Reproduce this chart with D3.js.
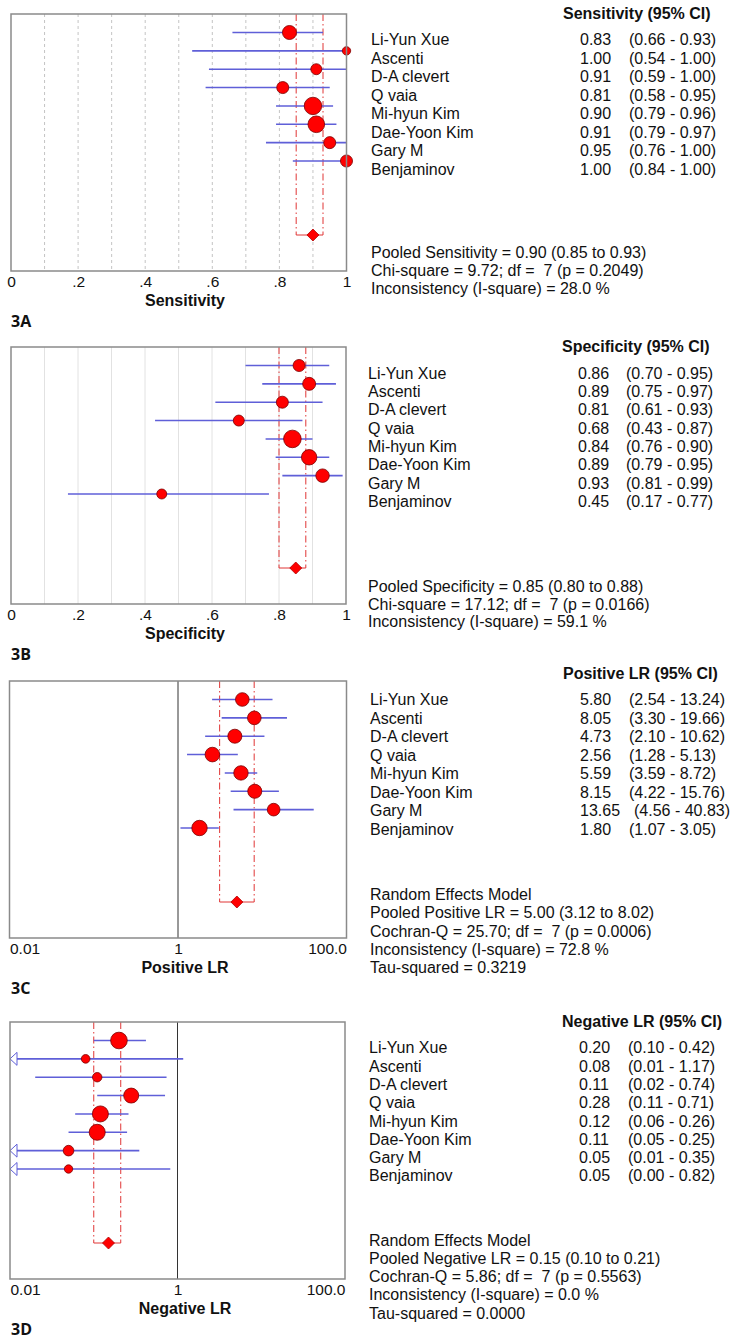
<!DOCTYPE html>
<html><head><meta charset="utf-8">
<script src="https://cdn.jsdelivr.net/npm/d3@7"></script>
<style>
html,body{margin:0;padding:0;background:#fff;}
svg{display:block;}
text{font-family:"Liberation Sans",Arial,sans-serif;fill:#111;}
</style></head>
<body>
<svg id="chart" width="741" height="1343"></svg>
<script>
// ---------------- DATA ----------------
const studies = ["Li-Yun Xue","Ascenti","D-A clevert","Q vaia","Mi-hyun Kim","Dae-Yoon Kim","Gary M","Benjaminov"];

const sensEst = [0.83,1.00,0.91,0.81,0.90,0.91,0.95,1.00];
const sensLo  = [0.66,0.54,0.59,0.58,0.79,0.79,0.76,0.84];
const sensHi  = [0.93,1.00,1.00,0.95,0.96,0.97,1.00,1.00];
const sensWeight = [14.0,5.0,8.6,10.3,21.7,19.7,10.3,10.3];
const sensPooled = [0.90,0.85,0.93];
const sensStats = ["Pooled Sensitivity = 0.90 (0.85 to 0.93)","Chi-square = 9.72; df =  7 (p = 0.2049)","Inconsistency (I-square) = 28.0 %"];

const specEst = [0.86,0.89,0.81,0.68,0.84,0.89,0.93,0.45];
const specLo  = [0.70,0.75,0.61,0.43,0.76,0.79,0.81,0.17];
const specHi  = [0.95,0.97,0.93,0.87,0.90,0.95,0.99,0.77];
const specWeight = [10.3,12.0,10.3,8.6,22.0,16.9,12.9,7.1];
const specPooled = [0.85,0.80,0.88];
const specStats = ["Pooled Specificity = 0.85 (0.80 to 0.88)","Chi-square = 17.12; df =  7 (p = 0.0166)","Inconsistency (I-square) = 59.1 %"];

const plrEst = [5.80,8.05,4.73,2.56,5.59,8.15,13.65,1.80];
const plrLo  = [2.54,3.30,2.10,1.28,3.59,4.22,4.56,1.07];
const plrHi  = [13.24,19.66,10.62,5.13,8.72,15.76,40.83,3.05];
const plrWeight = [13.2,13.2,14.0,15.2,14.8,14.0,11.4,16.9];
const plrPooled = [5.00,3.12,8.02];
const plrStats = ["Random Effects Model","Pooled Positive LR = 5.00 (3.12 to 8.02)","Cochran-Q = 25.70; df =  7 (p = 0.0006)","Inconsistency (I-square) = 72.8 %","Tau-squared = 0.3219"];

const nlrEst = [0.20,0.08,0.11,0.28,0.12,0.11,0.05,0.05];
const nlrLo  = [0.10,0.01,0.02,0.11,0.06,0.05,0.01,0.00];
const nlrHi  = [0.42,1.17,0.74,0.71,0.26,0.25,0.35,0.82];
const nlrWeight = [19.7,5.3,6.3,16.0,18.3,18.3,8.0,5.0];
const nlrPooled = [0.15,0.10,0.21];
const nlrStats = ["Random Effects Model","Pooled Negative LR = 0.15 (0.10 to 0.21)","Cochran-Q = 5.86; df =  7 (p = 0.5563)","Inconsistency (I-square) = 0.0 %","Tau-squared = 0.0000"];

const linTicks = [0,0.2,0.4,0.6,0.8,1];
const linTickLabels = ["0",".2",".4",".6",".8","1"];
const logTicks = [0.01,1,100];
const logTickLabels = ["0.01","1","100.0"];
const linGrid = [0.1,0.2,0.3,0.4,0.5,0.6,0.7,0.8,0.9];

// ---------------- LAYOUT ----------------
const svg = d3.select("#chart");
const rScale = d3.scaleSqrt().domain([0,22]).range([0,8.8]);

const panels = [
  {est:sensEst,lo:sensLo,hi:sensHi,w:sensWeight,pooled:sensPooled,stats:sensStats,
   header:"Sensitivity (95% CI)",title:"Sensitivity",tag:"3A",type:"lin",grid:"dot",
   top:14,x0:11,x1:346.5,hdrY:18.5,rowY:45,rowStep:18.5,statY:257.7,statStep:18,
   nameX:371,valX:580,ciX:629,hdrX:563},
  {est:specEst,lo:specLo,hi:specHi,w:specWeight,pooled:specPooled,stats:specStats,
   header:"Specificity (95% CI)",title:"Specificity",tag:"3B",type:"lin",grid:"solid",
   top:347,x0:11,x1:346,hdrY:351.7,rowY:378.7,rowStep:18.3,statY:591.7,statStep:17.8,
   nameX:368,valX:578,ciX:626,hdrX:562},
  {est:plrEst,lo:plrLo,hi:plrHi,w:plrWeight,pooled:plrPooled,stats:plrStats,
   header:"Positive LR (95% CI)",title:"Positive LR",tag:"3C",type:"log",
   top:681,x0:9.5,x1:346.5,hdrY:679.3,rowY:705,rowStep:18.5,statY:900,statStep:18.3,
   nameX:370,valX:580,ciX:629,hdrX:563},
  {est:nlrEst,lo:nlrLo,hi:nlrHi,w:nlrWeight,pooled:nlrPooled,stats:nlrStats,
   header:"Negative LR (95% CI)",title:"Negative LR",tag:"3D",type:"log",
   top:1022,x0:10,x1:345,hdrY:1026.7,rowY:1053.3,rowStep:18.3,statY:1245.7,statStep:18.2,
   nameX:369,valX:579,ciX:628,hdrX:562}
];

const H = 257;
const ciColor = "#5f5fd8";
const pooledColor = "#e03535";

panels.forEach(p => {
  const g = svg.append("g");
  const x = p.type === "lin"
    ? d3.scaleLinear().domain([0,1]).range([p.x0,p.x1])
    : d3.scaleLog().domain([0.01,100]).range([p.x0,p.x1]);
  const y = d3.scalePoint().domain(studies).range([p.top+18.5, p.top+147]);
  const yPool = p.top + 221;
  const bottom = p.top + H;

  // grid
  if (p.type === "lin") {
    g.selectAll(".grid").data(linGrid).join("line")
      .attr("x1",d=>x(d)).attr("x2",d=>x(d))
      .attr("y1",p.top).attr("y2",bottom)
      .attr("stroke", p.grid==="dot" ? "#c4c4c4" : "#e2e2e2")
      .attr("stroke-width",1)
      .attr("stroke-dasharray", p.grid==="dot" ? "3,3" : null);
  }

  // pooled CI dashed lines
  [p.pooled[1], p.pooled[2]].forEach(v => {
    g.append("line")
      .attr("x1",x(v)).attr("x2",x(v))
      .attr("y1",p.top).attr("y2",yPool)
      .attr("stroke",pooledColor).attr("stroke-width",1)
      .attr("stroke-dasharray","7,3,1.5,3");
  });
  g.append("line")
    .attr("x1",x(p.pooled[1])).attr("x2",x(p.pooled[2]))
    .attr("y1",yPool).attr("y2",yPool)
    .attr("stroke",pooledColor).attr("stroke-width",1);

  // center line for log panels
  if (p.type === "log") {
    g.append("line").attr("x1",x(1)).attr("x2",x(1))
      .attr("y1",p.top).attr("y2",bottom)
      .attr("stroke","#333").attr("stroke-width",1);
  }

  const rows = studies.map((s,i)=>({s, est:p.est[i], lo:p.lo[i], hi:p.hi[i], w:p.w[i]}));
  const clamp = v => p.type==="log" ? Math.max(v, 0.01) : v;

  // CI lines
  g.selectAll(".ci").data(rows).join("line")
    .attr("x1",d=>x(clamp(d.lo))).attr("x2",d=>x(clamp(d.hi)))
    .attr("y1",d=>y(d.s)).attr("y2",d=>y(d.s))
    .attr("stroke",ciColor).attr("stroke-width",1.6);

  // arrows for truncated lower bounds
  if (p.type === "log") {
    g.selectAll(".arr").data(rows.filter(d=>d.lo<=0.01)).join("path")
      .attr("d",d=>{
        const xx = x(0.01), yy = y(d.s);
        return `M${xx},${yy} L${xx+7},${yy-6.5} L${xx+7},${yy+6.5} Z`;
      })
      .attr("fill","#fff").attr("stroke",ciColor).attr("stroke-width",1);
  }

  // study points
  g.selectAll(".pt").data(rows).join("circle")
    .attr("cx",d=>x(d.est)).attr("cy",d=>y(d.s))
    .attr("r",d=>rScale(d.w))
    .attr("fill","#ff0000").attr("stroke","#7a0000").attr("stroke-width",0.8);

  // pooled diamond
  const px = x(p.pooled[0]);
  g.append("path")
    .attr("d",`M${px-6},${yPool} L${px},${yPool-6} L${px+6},${yPool} L${px},${yPool+6} Z`)
    .attr("fill","#ff0000").attr("stroke","#b00000").attr("stroke-width",0.8);

  // frame
  g.append("rect").attr("x",p.x0).attr("y",p.top)
    .attr("width",p.x1-p.x0).attr("height",H)
    .attr("fill","none").attr("stroke","#8a8a8a").attr("stroke-width",1.5);

  // axis
  const ticks = p.type==="lin" ? linTicks : logTicks;
  const labels = p.type==="lin" ? linTickLabels : logTickLabels;
  const axis = d3.axisBottom(x).tickValues(ticks).tickSize(0)
    .tickFormat((d,i)=>labels[i]);
  const ag = g.append("g").attr("transform",`translate(0,${p.top+273.5-11.5})`).call(axis);
  ag.select(".domain").remove();
  ag.selectAll("text")
    .attr("y",0).attr("dy","0.72em")
    .style("font-family","'Liberation Sans',Arial,sans-serif")
    .style("font-size","15.5px").attr("fill","#111");
  if (p.type==="log") {
    ag.selectAll("text").attr("text-anchor",(d,i)=> i===0 ? "start" : (i===ticks.length-1 ? "end" : "middle"));
  }

  g.append("text").attr("x",185).attr("y",p.top+291.5)
    .attr("text-anchor","middle").attr("font-weight","bold").attr("font-size","16px")
    .text(p.title);
  g.append("text").attr("x",11).attr("y",p.top+312.5)
    .style("font-family","'Open Sans',sans-serif").attr("font-weight","bold").attr("font-size","16px")
    .text(p.tag);

  // right text block
  g.append("text").attr("x",p.hdrX).attr("y",p.hdrY)
    .attr("font-weight","bold").attr("font-size","16px").text(p.header);
  const fmt = v => v.toFixed(2);
  rows.forEach((d,i)=>{
    const yy = p.rowY + i*p.rowStep;
    const vs = fmt(d.est);
    g.append("text").attr("x",p.nameX).attr("y",yy).attr("font-size","16px").text(d.s);
    g.append("text").attr("x",p.valX).attr("y",yy).attr("font-size","16px").text(vs);
    g.append("text").attr("x",p.ciX + (vs.length>4?5:0)).attr("y",yy).attr("font-size","16px")
      .text(`(${fmt(d.lo)} - ${fmt(d.hi)})`);
  });
  p.stats.forEach((s,i)=>{
    g.append("text").attr("x",p.nameX).attr("y",p.statY + i*p.statStep)
      .attr("font-size","16px").attr("xml:space","preserve").style("white-space","pre").text(s);
  });
});
</script>
</body></html>
